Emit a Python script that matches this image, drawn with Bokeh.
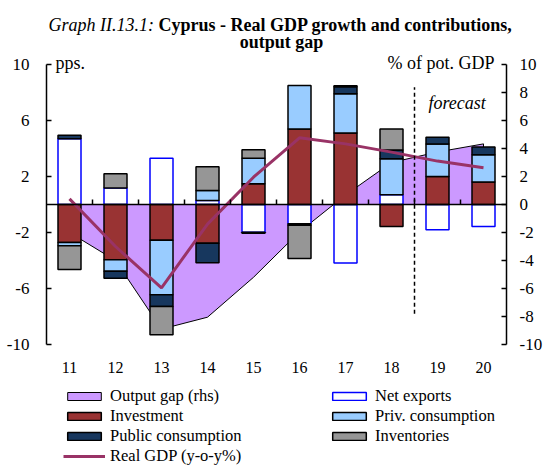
import numpy as np
from bokeh.plotting import figure
from bokeh.layouts import column
from bokeh.models import (Range1d, LinearAxis, FixedTicker, Legend, LegendItem,
                          Label, ColumnDataSource)
from bokeh.embed import file_html
from bokeh.resources import INLINE

# ---------------- data ----------------
years = ["11", "12", "13", "14", "15", "16", "17", "18", "19", "20"]
net_exports = [4.7, 1.17, 3.3, 0.29, -1.98, -1.38, -4.17, 0.69, -1.81, -1.57]
investment = [-2.72, -3.95, -2.55, -2.76, 1.48, 5.4, 5.1, -1.57, 2.0, 1.6]
priv_consumption = [-0.22, -0.81, -3.9, 0.71, 1.83, 3.1, 2.81, 2.57, 2.33, 1.95]
public_consumption = [0.25, -0.5, -0.83, -1.4, -0.08, -0.1, 0.5, 0.64, 0.48, 0.55]
inventories = [-1.7, 1.02, -2.02, 1.69, 0.6, -2.38, 0.08, 1.5, 0.0, 0.0]
output_gap = [-2.0, -4.0, -8.9, -8.05, -5.2, -1.95, 0.68, 3.0, 3.75, 4.33]
real_gdp = [0.4, -3.0, -5.95, -1.4, 1.95, 4.76, 4.33, 3.74, 3.1, 2.62]
left_ticks = [-10, -6, -2, 2, 6, 10]
right_ticks = [-10, -8, -6, -4, -2, 0, 2, 4, 6, 8, 10]
first_forecast_year = "19"

FONT = "Liberation Serif"

W = 548
H_TITLE, H_CHART, H_LEG = 54, 328, 84

n = len(years)
x = np.arange(n, dtype=float)

# styles
gap_style = dict(fill_color="#CC99FF", line_color="black", line_width=1)
gdp_style = dict(line_color="#993366", line_width=3)
bar_styles = {
    "Net exports": dict(fill_color="white", line_color="#0000FF", line_width=1.5),
    "Investment": dict(fill_color="#993333", line_color="black", line_width=1.5),
    "Priv. consumption": dict(fill_color="#99CCFF", line_color="black", line_width=1.5),
    "Public consumption": dict(fill_color="#17375E", line_color="black", line_width=1.5),
    "Inventories": dict(fill_color="#969696", line_color="black", line_width=1.5),
}
series = [("Net exports", net_exports), ("Investment", investment),
          ("Priv. consumption", priv_consumption),
          ("Public consumption", public_consumption), ("Inventories", inventories)]


def blank_fig(h):
    f = figure(width=W, height=h, output_backend="svg", toolbar_location=None,
               x_range=Range1d(0, W), y_range=Range1d(h, 0),
               x_axis_location=None, y_axis_location=None,
               min_border=0, min_border_left=0, min_border_right=0,
               min_border_top=0, min_border_bottom=0, frame_align=False)
    f.outline_line_color = None
    f.grid.visible = False
    return f


def lab(fig, xv, yv, text, size, align="left", style="normal"):
    fig.add_layout(Label(x=xv, y=yv, text=text, text_font=FONT, text_font_size=size,
                         text_font_style=style, text_align=align,
                         text_baseline="alphabetic", text_color="black"))


# ================= title =================
ft = blank_fig(H_TITLE)
lab(ft, 48, 24, "Graph II.13.1:", "18px", style="italic")
lab(ft, 158, 24, "Cyprus - Real GDP growth and contributions,", "18px", style="bold")
lab(ft, 281, 41.5, "output gap", "18px", align="center", style="bold")

# ================= chart =================
PX = 14.0
top_val = (204 - H_TITLE) / PX
p = figure(width=W, height=H_CHART, output_backend="svg", toolbar_location=None,
           x_range=Range1d(-0.5, n - 0.5), y_range=Range1d(-10, top_val),
           x_axis_location=None, y_axis_location=None,
           min_border_left=46, min_border_right=42, min_border_top=0,
           min_border_bottom=38, frame_align=False)
p.extra_y_ranges = {"gap": Range1d(-10, top_val)}
p.outline_line_color = None
p.grid.visible = False

gx = list(x) + [x[-1], x[0]]
gy = list(output_gap) + [0.0, 0.0]
p.patch(gx, gy, y_range_name="gap", **gap_style)

pos = np.zeros(n)
neg = np.zeros(n)
for name, vals in series:
    v = np.array(vals, dtype=float)
    bottom = np.where(v >= 0, pos, neg + v)
    top = np.where(v >= 0, pos + v, neg)
    pos = pos + np.clip(v, 0, None)
    neg = neg + np.clip(v, None, 0)
    m = v != 0
    src = ColumnDataSource(dict(x=x[m], bottom=bottom[m], top=top[m]))
    p.vbar(x="x", bottom="bottom", top="top", width=0.5, source=src, **bar_styles[name])

p.line(x, real_gdp, **gdp_style)

fx = years.index(first_forecast_year) - 0.5
p.segment(x0=[fx], y0=[-7.8], x1=[fx], y1=[8.38], line_color="black",
          line_width=1.5, line_dash="4 3")

ly = LinearAxis(ticker=FixedTicker(ticks=left_ticks), bounds=(-10, 10),
                major_label_overrides={t: str(t) for t in left_ticks},
                major_tick_in=5, major_tick_out=0,
                minor_tick_line_color=None, axis_line_width=1.5, major_tick_line_width=1.5,
                major_label_standoff=17, major_label_text_font=FONT,
                major_label_text_font_size="17px", major_label_text_color="black")
p.add_layout(ly, "left")

ry = LinearAxis(y_range_name="gap", ticker=FixedTicker(ticks=right_ticks), bounds=(-10, 10),
                major_label_overrides={t: str(t) for t in right_ticks},
                major_tick_in=5, major_tick_out=0, minor_tick_line_color=None,
                axis_line_width=1.5, major_tick_line_width=1.5, major_label_standoff=13,
                major_label_text_font=FONT, major_label_text_font_size="17px",
                major_label_text_color="black")
p.add_layout(ry, "right")

lx = LinearAxis(ticker=FixedTicker(ticks=[float(i) for i in x]),
                major_label_overrides={int(i): yv for i, yv in zip(x, years)},
                axis_line_color=None, major_tick_line_color=None,
                minor_tick_line_color=None, major_label_standoff=11,
                major_label_text_font=FONT, major_label_text_font_size="16px",
                major_label_text_color="black")
p.add_layout(lx, "below")

zx = LinearAxis(fixed_location=0, ticker=FixedTicker(ticks=[float(i) + 0.5 for i in x[:-1]]),
                major_tick_in=5, major_tick_out=0, minor_tick_line_color=None,
                axis_line_width=1.5, major_tick_line_width=1.5, major_label_standoff=0,
                major_label_text_color=None, major_label_text_font_size="0px")
p.add_layout(zx, "below")

lab(p, -0.304, 10.14, "pps.", "18px")
lab(p, 9.239, 10.14, "% of pot. GDP", "18px", align="right")
lab(p, 7.804, 7.25, "forecast", "18px", style="italic")

# ================= legend =================
# legend-only renderers (a single NaN row: nothing is drawn, but the legend glyph is)
fl = blank_fig(H_LEG)
nan1 = np.array([np.nan])
r_gap = fl.patch(nan1, nan1, **gap_style)
r_bar = {name: fl.vbar(x=nan1, bottom=nan1, top=nan1, width=0.5, **bar_styles[name])
         for name, _ in series}
r_gdp = fl.line(nan1, nan1, **gdp_style)

common = dict(border_line_color=None, background_fill_alpha=0, padding=0, margin=0,
              spacing=0, glyph_width=42, glyph_height=10, label_height=20,
              label_standoff=5, label_text_font=FONT, label_text_font_size="16.5px",
              label_text_color="black", orientation="vertical")
leg1 = Legend(items=[
    LegendItem(label="Output gap (rhs)", renderers=[r_gap]),
    LegendItem(label="Investment", renderers=[r_bar["Investment"]]),
    LegendItem(label="Public consumption", renderers=[r_bar["Public consumption"]]),
    LegendItem(label="Real GDP (y-o-y%)", renderers=[r_gdp]),
], location=(63, 0), **common)
leg2 = Legend(items=[
    LegendItem(label="Net exports", renderers=[r_bar["Net exports"]]),
    LegendItem(label="Priv. consumption", renderers=[r_bar["Priv. consumption"]]),
    LegendItem(label="Inventories", renderers=[r_bar["Inventories"]]),
], location=(328, 20), **common)
fl.add_layout(leg1, "center")
fl.add_layout(leg2, "center")

layout = column(ft, p, fl, spacing=0)
open("out.html", "w").write(file_html(layout, INLINE))
